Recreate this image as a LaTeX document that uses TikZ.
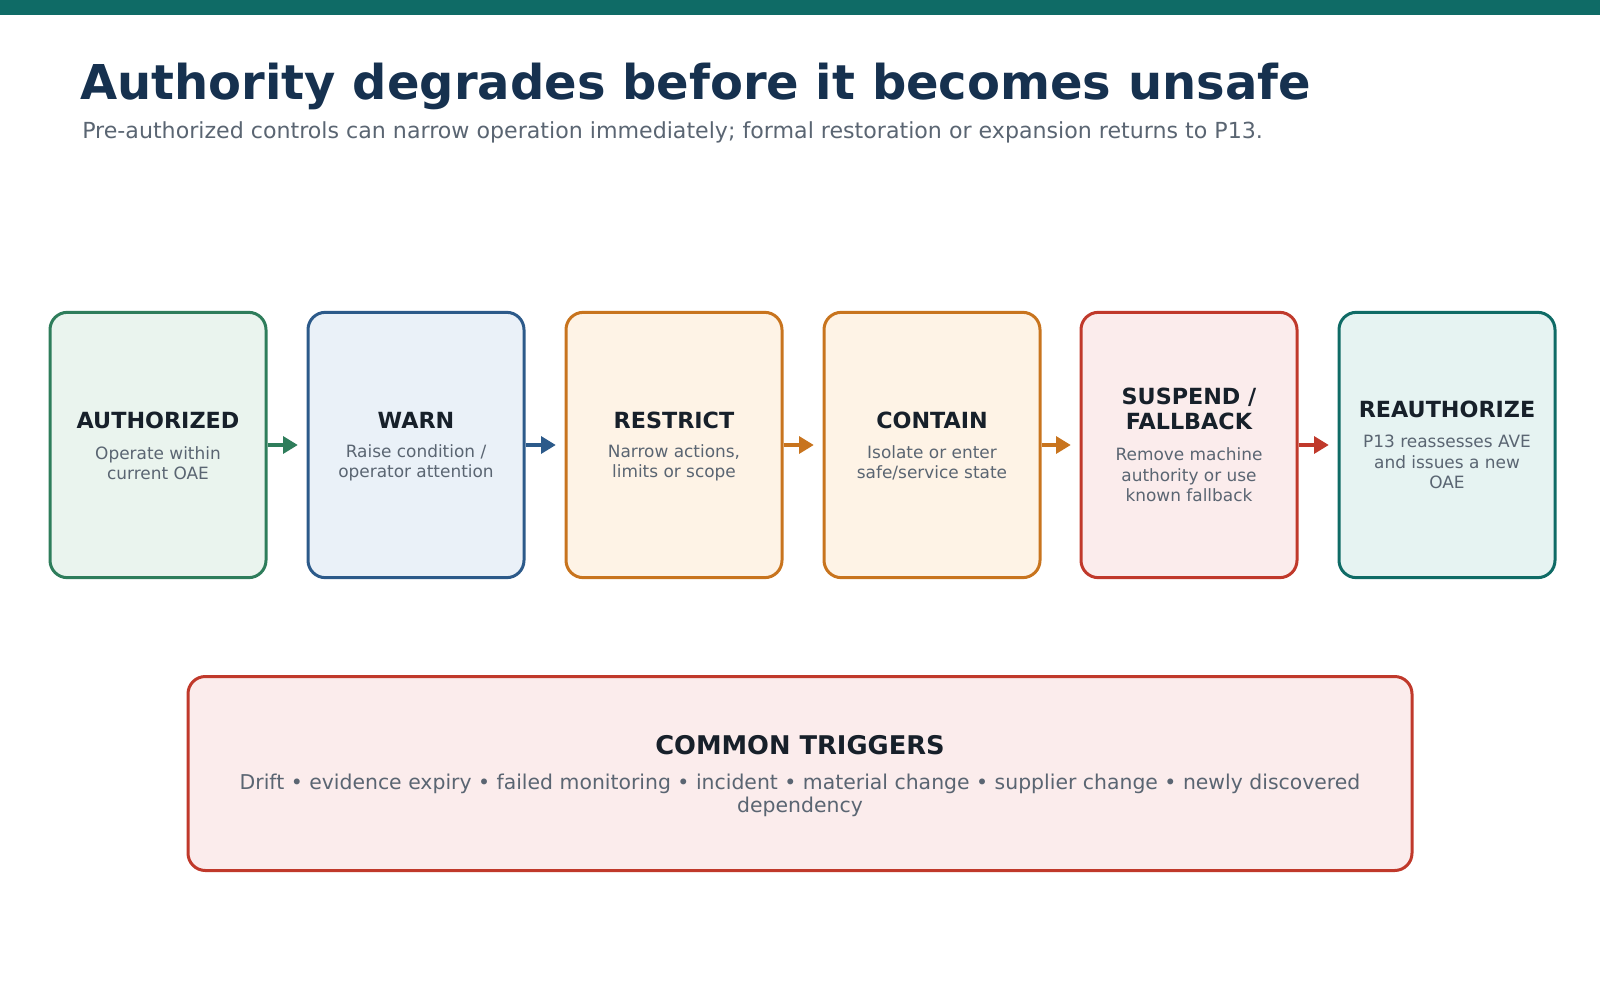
\documentclass[tikz,border=0pt]{standalone}
\usepackage{fontspec}
\setmainfont{DejaVu Sans}
\usetikzlibrary{arrows.meta}

\definecolor{barteal}{HTML}{0F6B66}
\definecolor{headblue}{HTML}{16314F}
\definecolor{inkdark}{HTML}{17202A}
\definecolor{inkgray}{HTML}{5A6572}
\definecolor{okgreen}{HTML}{2E7D5B}
\definecolor{okfill}{HTML}{EAF4EE}
\definecolor{warnblue}{HTML}{2C5A8A}
\definecolor{warnfill}{HTML}{EAF1F8}
\definecolor{actorange}{HTML}{C8741E}
\definecolor{actfill}{HTML}{FEF3E6}
\definecolor{stopred}{HTML}{C0392B}
\definecolor{stopfill}{HTML}{FBECEC}
\definecolor{reteal}{HTML}{0F6B66}
\definecolor{refill}{HTML}{E6F3F2}

\begin{document}
\begin{tikzpicture}[x = 0.75pt, y = -0.75pt,
    stage/.style = {draw, line width = 2.25pt, rounded corners = 13pt,
        minimum width = 162pt, minimum height = 199pt, inner sep = 0pt},
    stagetitle/.style = {text = inkdark, align = center,
        font = \fontsize{16.7}{18.75}\selectfont\bfseries},
    stagetext/.style = {text = inkgray, align = center,
        font = \fontsize{12.7}{15.4}\selectfont},
    flow/.style = {line width = 3.5pt,
        -{Triangle[length = 11pt, width = 12.5pt]}, shorten > = 6.5pt}]

    \useasboundingbox (0, 0) rectangle (1600, 996);
    \fill [barteal] (0, 0) rectangle (1600, 14.5);

% Heading and subheading
    \node (head) [anchor = base west, inner sep = 0pt, text = headblue,
        font = \fontsize{36}{40}\selectfont\bfseries] at (80, 99)
        {Authority degrades before it becomes unsafe};
    \node (subhead) [anchor = base west, inner sep = 0pt, text = inkgray,
        font = \fontsize{16.6}{19}\selectfont] at (82, 138)
        {Pre-authorized controls can narrow operation immediately; formal restoration or expansion returns to P13.};

% The six stages
    \node (auth) [stage, okgreen, fill = okfill] at (158, 445) {};
    \node (warn) [stage, warnblue, fill = warnfill] at (416, 445) {};
    \node (restrict) [stage, actorange, fill = actfill] at (674, 445) {};
    \node (contain) [stage, actorange, fill = actfill] at (932, 445) {};
    \node (suspend) [stage, stopred, fill = stopfill] at (1189, 445) {};
    \node (reauth) [stage, reteal, fill = refill] at (1447, 445) {};

    \node (auth title) [stagetitle] at (158, 420) {AUTHORIZED};
    \node (auth text) [stagetext] at (158, 463) {Operate within\\current OAE};

    \node (warn title) [stagetitle] at (416, 420) {WARN};
    \node (warn text) [stagetext] at (416, 463) {Raise condition /\\operator attention};

    \node (restrict title) [stagetitle] at (674, 420) {RESTRICT};
    \node (restrict text) [stagetext] at (674, 463) {Narrow actions,\\limits or scope};

    \node (contain title) [stagetitle] at (932, 420) {CONTAIN};
    \node (contain text) [stagetext] at (932, 463) {Isolate or enter\\safe/service state};

    \node (suspend title) [stagetitle] at (1189, 409) {SUSPEND /\\FALLBACK};
    \node (suspend text) [stagetext] at (1189, 475)
        {Remove machine\\authority or use\\known fallback};

    \node (reauth title) [stagetitle] at (1447, 409) {REAUTHORIZE};
    \node (reauth text) [stagetext] at (1447, 462)
        {P13 reassesses AVE\\and issues a new\\OAE};

% Arrows take the colour of the stage they leave
    \foreach \from/\to/\col in {auth/warn/okgreen, warn/restrict/warnblue,
        restrict/contain/actorange, contain/suspend/actorange,
        suspend/reauth/stopred}
        \draw [flow, \col] (\from) -- (\to);

% Triggers panel
    \node (triggers) [draw = stopred, fill = stopfill, line width = 2.25pt,
        rounded corners = 13pt, minimum width = 918pt,
        minimum height = 145.5pt] at (800, 773.5) {};
    \node (triggers title) [text = inkdark,
        font = \fontsize{19.3}{22}\selectfont\bfseries] at (800, 745)
        {COMMON TRIGGERS};
    \node (triggers text) [text = inkgray, align = center,
        font = \fontsize{15.3}{17.6}\selectfont] at (800, 795.5)
        {Drift • evidence expiry • failed monitoring • incident • material change • supplier change • newly discovered\\dependency};

\end{tikzpicture}
\end{document}
